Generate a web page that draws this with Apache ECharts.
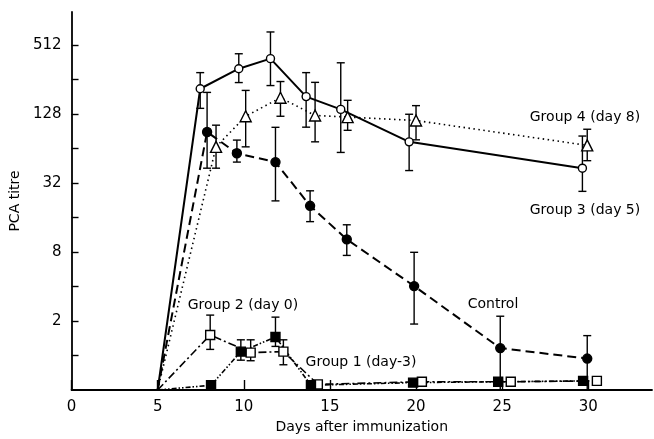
<!DOCTYPE html>
<html>
<head>
<meta charset="utf-8">
<script src="https://cdn.jsdelivr.net/npm/echarts@6/dist/echarts.min.js"></script>
<style>html,body{margin:0;padding:0;background:#fff}#c{width:654px;height:439px}</style>
</head>
<body>
<div id="c"></div>
<script>
// ---- data (days, PCA titre, error bar high / low) ----
const xTickValues = [0, 5, 10, 15, 20, 25, 30];
const yTickValues = [1, 2, 4, 8, 16, 32, 64, 128, 256, 512];
const yLabelValues = [2, 8, 32, 128, 512];

const g3Days = [5, 7.47, 9.71, 11.55, 13.62, 15.63, 19.6, 29.66];
const g3Vals = [0.5, 212, 317, 388, 181, 140, 73, 43];
const g3Hi   = [null, 293, 428, 663, 293, 357, 127, 82];
const g3Lo   = [null, 143, 240, 226, 98, 59, 41, 27];

const g4Days = [5, 8.39, 10.11, 12.13, 14.14, 16.03, 20.0, 29.94];
const g4Vals = [0.5, 66, 122, 177, 124, 120, 112, 68];
const g4Hi   = [null, 102, 205, 245, 241, 168, 151, 94];
const g4Lo   = [null, 43, 66, 122, 73, 92, 76, 50];

const ctDays = [5, 7.87, 9.6, 11.84, 13.85, 15.98, 19.89, 24.89, 29.94];
const ctVals = [0.5, 89, 58, 48.6, 20.2, 10.3, 4.03, 1.16, 0.94];
const ctHi   = [null, 197, 75.6, 97.7, 27.3, 13.8, 7.94, 2.2, 1.49];
const ctLo   = [null, 43, 48.6, 22.3, 14.7, 7.46, 1.88, 0.5, 0.5];

const g2Days = [5, 8.05, 10.4, 12.3, 14.3, 20.34, 25.5, 30.5];
const g2Vals = [0.5, 1.51, 1.06, 1.08, 0.56, 0.59, 0.59, 0.6];
const g2Hi   = [null, 2.25, 1.37, 1.37, null, null, null, null];
const g2Lo   = [null, 1.13, 0.9, 0.83, null, null, null, null];

const g1Days = [5, 8.1, 9.83, 11.84, 13.9, 19.83, 24.77, 29.7];
const g1Vals = [0.5, 0.55, 1.08, 1.45, 0.55, 0.58, 0.59, 0.6];
const g1Hi   = [null, null, 1.37, 2.16, null, null, null, null];
const g1Lo   = [null, null, 0.91, 1.2, null, null, null, null];

const FONT = 'DejaVu Sans';

function pts(days, vals) { return days.map((d, i) => [d, vals[i]]); }
function bars(days, hi, lo) {
  const out = [];
  days.forEach((d, i) => { if (hi[i] != null) out.push([d, lo[i], hi[i]]); });
  return out;
}

function lineSeries(name, days, vals, symbol, size, fill, dash, width) {
  return {
    name, type: 'line', data: pts(days, vals), symbol,
    symbolSize: (v, p) => p.dataIndex === 0 ? 0 : size,
    showAllSymbol: true,
    itemStyle: { color: fill, borderColor: '#000', borderWidth: 1.4 },
    lineStyle: { color: '#000', width: width, type: dash },
    z: 3, animation: false
  };
}

function errSeries(days, hi, lo) {
  return {
    type: 'custom', data: bars(days, hi, lo), z: 2, animation: false,
    renderItem: (params, api) => {
      const x = api.value(0);
      const pLo = api.coord([x, api.value(1)]);
      const pHi = api.coord([x, api.value(2)]);
      const w = 4;
      const st = { stroke: '#000', lineWidth: 1.4 };
      return {
        type: 'group', children: [
          { type: 'line', shape: { x1: pLo[0], y1: pLo[1], x2: pHi[0], y2: pHi[1] }, style: st },
          { type: 'line', shape: { x1: pHi[0] - w, y1: pHi[1], x2: pHi[0] + w, y2: pHi[1] }, style: st },
          { type: 'line', shape: { x1: pLo[0] - w, y1: pLo[1], x2: pLo[0] + w, y2: pLo[1] }, style: st }
        ]
      };
    }
  };
}

const chart = echarts.init(document.getElementById('c'), null, { renderer: 'canvas' });
const txt = { fontFamily: FONT, fontSize: 14, color: '#000' };
function label(text, x, y) {
  return { type: 'text', x: x, y: y, style: { text, align: 'center', verticalAlign: 'middle', fill: '#000', font: '14px "' + FONT + '"' }, z: 10 };
}

chart.setOption({
  animation: false,
  grid: { left: 66, right: 2, top: 12, bottom: 45 },
  xAxis: {
    type: 'value', min: 0, max: 33.7,
    name: 'Days after immunization', nameLocation: 'middle', nameGap: 30,
    nameTextStyle: txt,
    axisLine: { lineStyle: { color: '#000', width: 1.8 } },
    axisTick: { inside: true, length: 10, lineStyle: { color: '#000', width: 1.4 }, customValues: xTickValues },
    axisLabel: Object.assign({ margin: 10, customValues: xTickValues }, txt, { fontSize: 15 }),
    splitLine: { show: false }
  },
  yAxis: {
    type: 'log', logBase: 2, min: 0.5, max: 990,
    name: 'PCA titre', nameLocation: 'middle', nameGap: 37, nameRotate: 90,
    nameTextStyle: Object.assign({ padding: [0, 0, 0, 0] }, txt),
    axisLine: { show: true, lineStyle: { color: '#000', width: 1.8 } },
    axisTick: { show: true, inside: true, length: 7, lineStyle: { color: '#000', width: 1.4 }, customValues: yTickValues },
    axisLabel: Object.assign({ margin: 10, customValues: yLabelValues }, txt, { fontSize: 15 }),
    splitLine: { show: false }
  },
  graphic: [
    label('Group 4 (day 8)', 585, 117),
    label('Group 3 (day 5)', 585, 210),
    label('Control', 493, 304),
    label('Group 2 (day 0)', 243, 305),
    label('Group 1 (day-3)', 361, 362)
  ],
  series: [
    errSeries(g3Days, g3Hi, g3Lo),
    errSeries(g4Days, g4Hi, g4Lo),
    errSeries(ctDays, ctHi, ctLo),
    errSeries(g2Days, g2Hi, g2Lo),
    errSeries(g1Days, g1Hi, g1Lo),
    lineSeries('Group 3 (day 5)', g3Days, g3Vals, 'circle', 8, '#fff', 'solid', 2),
    lineSeries('Group 4 (day 8)', g4Days, g4Vals, 'triangle', 11, '#fff', [1.5, 3.5], 1.6),
    lineSeries('Control', ctDays, ctVals, 'circle', 9, '#000', [9, 5], 2),
    lineSeries('Group 2 (day 0)', g2Days, g2Vals, 'rect', 9, '#fff', [8, 3, 2, 3], 1.6),
    lineSeries('Group 1 (day-3)', g1Days, g1Vals, 'rect', 9, '#000', [5, 2, 1.5, 2, 1.5, 2], 1.6)
  ]
});
</script>
</body>
</html>
